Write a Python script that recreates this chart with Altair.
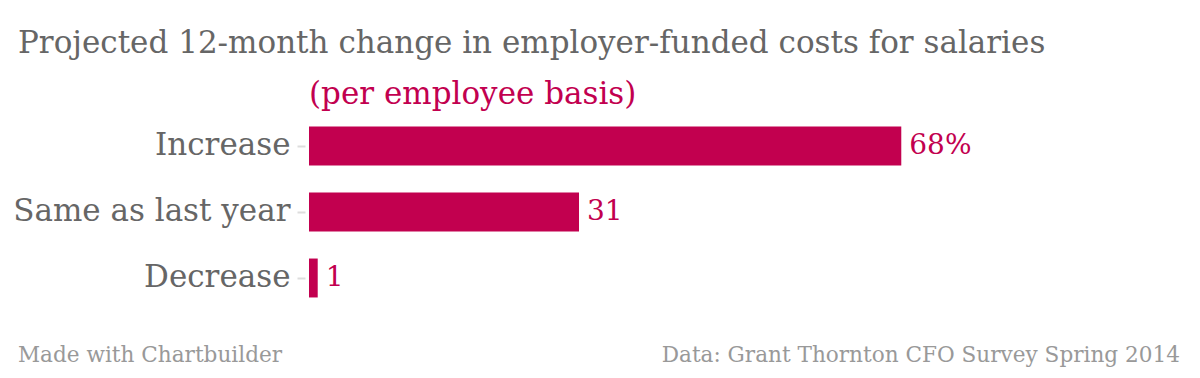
import altair as alt
import pandas as pd

categories = ["Increase", "Same as last year", "Decrease"]
values = [68, 31, 1]
value_labels = ["68%", "31", "1"]

title_text = "Projected 12-month change in employer-funded costs for salaries"
subtitle_text = "(per employee basis)"
credit_text = "Made with Chartbuilder"
source_text = "Data: Grant Thornton CFO Survey Spring 2014"

FONT = "DejaVu Serif"
RED = "#c2004f"
GRAY = "#666666"
LIGHT = "#999999"

df = pd.DataFrame({"category": categories, "value": values, "label": value_labels})

W, H = 871, 198
PAD_L, PAD_T = 301, 105

y_enc = alt.Y("category:N", sort=categories,
              scale=alt.Scale(paddingInner=0.41, paddingOuter=0.205),
              axis=alt.Axis(title=None, labelFont=FONT, labelFontSize=31, labelColor=GRAY,
                            labelPadding=7, tickSize=8, tickColor="#dddddd", tickWidth=2,
                            labelLimit=400, domain=False, offset=4))
x_enc = alt.X("value:Q", scale=alt.Scale(domain=[0, 100]), axis=None)

bars = alt.Chart(df).mark_bar(color=RED).encode(x=x_enc, y=y_enc)
labels = alt.Chart(df).mark_text(align="left", baseline="middle", dx=8, font=FONT,
                                 fontSize=28, color=RED).encode(x=x_enc, y=alt.Y("category:N", sort=categories), text="label:N")

meta = pd.DataFrame({"t": [title_text]})
title = alt.Chart(meta).mark_text(align="left", baseline="middle", font=FONT, fontSize=31,
                                  color=GRAY).encode(x=alt.value(10 - PAD_L), y=alt.value(36 - PAD_T),
                                                     text="t:N")
sub = alt.Chart(pd.DataFrame({"t": [subtitle_text]})).mark_text(
    align="left", baseline="middle", font=FONT, fontSize=31, color=RED).encode(
    x=alt.value(0), y=alt.value(87 - PAD_T), text="t:N")
credit = alt.Chart(pd.DataFrame({"t": [credit_text]})).mark_text(
    align="left", baseline="middle", font=FONT, fontSize=21.6, color=LIGHT).encode(
    x=alt.value(10 - PAD_L), y=alt.value(348 - PAD_T), text="t:N")
source = alt.Chart(pd.DataFrame({"t": [source_text]})).mark_text(
    align="right", baseline="middle", font=FONT, fontSize=21.6, color=LIGHT).encode(
    x=alt.value(1172 - PAD_L), y=alt.value(348 - PAD_T), text="t:N")

chart = alt.layer(bars, labels, title, sub, credit, source).properties(
    width=W, height=H,
    autosize=alt.AutoSizeParams(type="none"),
    padding={"left": PAD_L, "top": PAD_T, "right": 1184 - PAD_L - W, "bottom": 362 - PAD_T - H},
).configure(background="white").configure_view(stroke=None, strokeWidth=0)

chart.save("out.html", embed_options={"renderer": "svg", "actions": False})
